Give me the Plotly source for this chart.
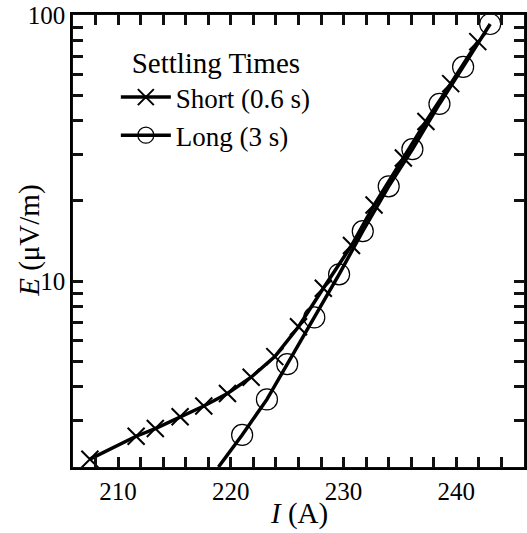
import plotly.graph_objects as go

# Data
short_I = [207.5, 211.6, 213.3, 215.5, 217.6, 219.7, 221.8, 223.9, 226.0, 228.2,
           230.7, 232.7, 235.3, 237.3, 239.5, 241.9]
short_E = [2.14, 2.61, 2.79, 3.09, 3.39, 3.78, 4.35, 5.20, 6.73, 9.39,
           13.6, 19.3, 29.0, 39.8, 55.2, 79.4]

long_I = [218.9, 221.0, 223.2, 225.0, 227.4, 229.6, 231.7, 234.0, 236.1, 238.5,
          240.6, 243.0]
long_E = [2.0, 2.64, 3.59, 4.87, 7.30, 10.6, 15.4, 22.7, 31.3, 46.3, 63.8, 92.5]

x_major = [210, 220, 230, 240]
x_all = list(range(208, 246, 2))
y_major = [10, 100]
y_all = [3, 4, 5, 6, 7, 8, 9, 10, 20, 30, 40, 50, 60, 70, 80, 90, 100]

X_RANGE = [206, 246]
Y_RANGE = [0.30103, 2]

FONT = "Liberation Serif"
TICK_COLOR = "#111111"

fig = go.Figure()
fig.add_trace(go.Scatter(
    x=short_I, y=short_E, name="Short (0.6 s)", mode="lines+markers",
    line=dict(color="black", width=3.5),
    marker=dict(symbol="x-thin-open", size=17, color="black",
                line=dict(color="black", width=2)),
    cliponaxis=False))
fig.add_trace(go.Scatter(
    x=long_I, y=long_E, name="Long (3 s)", mode="lines+markers",
    xaxis="x2", yaxis="y2",
    line=dict(color="black", width=3.5),
    marker=dict(symbol="circle-open", size=21, color="black",
                line=dict(color="black", width=1.2)),
    cliponaxis=False))

tick_axis = dict(showline=True, linecolor=TICK_COLOR, mirror="ticks",
                 automargin=False, showgrid=False, ticks="inside",
                 tickcolor=TICK_COLOR, tickwidth=3, showticklabels=False)

fig.update_layout(
    width=527, height=533, autosize=False,
    margin=dict(l=73, r=3, t=15, b=66),
    plot_bgcolor="white", paper_bgcolor="white",
    font=dict(family=FONT, size=24),
    showlegend=True,
    legend=dict(
        x=0.095, y=0.955, xanchor="left", yanchor="top",
        bgcolor="rgba(0,0,0,0)", itemwidth=50,
        font=dict(family=FONT, size=27, color="black"),
        title=dict(text="Settling Times", side="top center",
                   font=dict(family=FONT, size=29, color="black")),
    ),
    xaxis=dict(
        range=X_RANGE, showgrid=False, automargin=False,
        showline=True, linecolor="black", linewidth=2.5, mirror=True,
        ticks="", tickvals=x_major,
        tickfont=dict(family=FONT, size=25, color="black")),
    yaxis=dict(
        type="log", range=Y_RANGE, showgrid=False, automargin=False,
        showline=True, linecolor="black", linewidth=2.5, mirror=True,
        ticks="", tickvals=y_major,
        tickfont=dict(family=FONT, size=25, color="black")),
    xaxis2=dict(range=X_RANGE, overlaying="x", anchor="y2", side="bottom",
                ticklen=10, tickvals=x_all, **tick_axis),
    yaxis2=dict(type="log", range=Y_RANGE, overlaying="y", anchor="x2", side="left",
                ticklen=10, tickvals=y_all, **tick_axis),
    xaxis3=dict(range=X_RANGE, overlaying="x", anchor="y3", side="bottom",
                ticklen=15, tickvals=x_major, **tick_axis),
    yaxis3=dict(type="log", range=Y_RANGE, overlaying="y", anchor="x3", side="left",
                ticklen=15, tickvals=y_major, **tick_axis),
    annotations=[
        dict(text="<i>E</i> (μV/m)", xref="paper", yref="paper",
             x=-0.098, y=0.5, xanchor="center", yanchor="middle",
             textangle=-90, showarrow=False,
             font=dict(family=FONT, size=29, color="black")),
        dict(text="<i>I</i> (A)", xref="paper", yref="paper",
             x=0.5, y=-0.102, xanchor="center", yanchor="middle",
             showarrow=False,
             font=dict(family=FONT, size=29, color="black")),
    ],
)

fig.write_html(
    "out.html",
    config={"displayModeBar": False},
    post_script="document.body.style.margin='0';document.body.style.overflow='hidden';",
)
